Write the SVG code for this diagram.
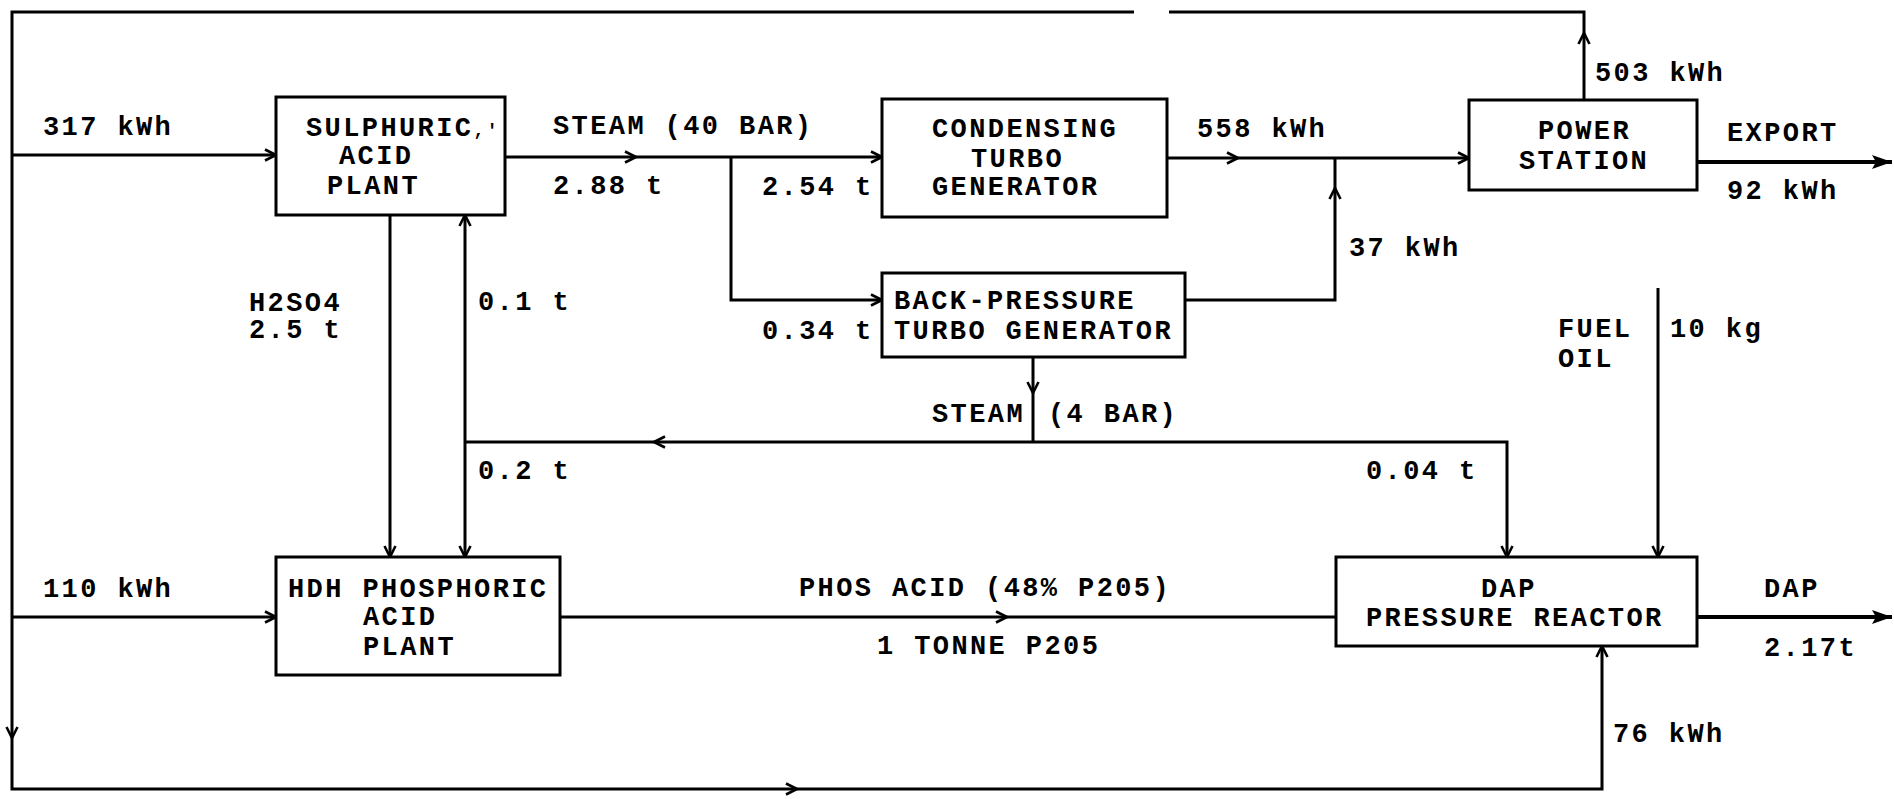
<svg xmlns="http://www.w3.org/2000/svg" width="1894" height="799" viewBox="0 0 1894 799">
<style>
.t{font-family:"Liberation Mono","DejaVu Sans Mono",monospace;font-size:27px;letter-spacing:2.4px;font-weight:bold;fill:#000}
.b{fill:#fff;stroke:#000;stroke-width:3}
.c path{fill:none;stroke:#000;stroke-width:3}
.c path.h{stroke-width:4}
</style>
<defs>
<marker id="a" viewBox="0 0 14 14" refX="13" refY="7" markerWidth="14" markerHeight="14" markerUnits="userSpaceOnUse" orient="auto"><path d="M2,1.5 L13,7 L2,12.5" fill="none" stroke="#000" stroke-width="2.6"/></marker>
<marker id="f" viewBox="0 0 20 16" refX="20" refY="8" markerWidth="20" markerHeight="16" markerUnits="userSpaceOnUse" orient="auto"><path d="M0,1 L20,8 L0,15 L4,8 z" fill="#000"/></marker>
</defs>
<rect width="1894" height="799" fill="#fff"/>
<g class="c" id="connectors">
<path d="M1584,100 V33" marker-end="url(#a)"/>
<path d="M1584,33 V12 H1169"/>
<path d="M1134,12 H12 V738" marker-end="url(#a)"/>
<path d="M12,738 V789 H797" marker-end="url(#a)"/>
<path d="M797,789 H1602 V646" marker-end="url(#a)"/>
<path d="M12,155 H276" marker-end="url(#a)"/>
<path d="M12,617 H276" marker-end="url(#a)"/>
<path d="M505,157 H636" marker-end="url(#a)"/>
<path d="M636,157 H882" marker-end="url(#a)"/>
<path d="M731,157 V300 H882" marker-end="url(#a)"/>
<path d="M1167,158 H1238" marker-end="url(#a)"/>
<path d="M1238,158 H1469" marker-end="url(#a)"/>
<path d="M1185,300 H1335 V188" marker-end="url(#a)"/>
<path d="M1335,188 V158"/>
<path class="h" d="M1697,162 H1892" marker-end="url(#f)"/>
<path d="M390,215 V557" marker-end="url(#a)"/>
<path d="M465,442 V215" marker-end="url(#a)"/>
<path d="M465,442 V557" marker-end="url(#a)"/>
<path d="M1033,357 V393" marker-end="url(#a)"/>
<path d="M1033,393 V442"/>
<path d="M1033,442 H654" marker-end="url(#a)"/>
<path d="M654,442 H465"/>
<path d="M1033,442 H1507 V557" marker-end="url(#a)"/>
<path d="M560,617 H1007" marker-end="url(#a)"/>
<path d="M1007,617 H1336"/>
<path class="h" d="M1697,617 H1892" marker-end="url(#f)"/>
<path d="M1658,288 V557" marker-end="url(#a)"/>
</g>
<g id="sulphuric">
<rect class="b" x="276" y="97" width="229" height="118"/>
<text class="t" x="306" y="136">SULPHURIC<tspan font-size="18">,'</tspan></text>
<text class="t" x="339" y="164">ACID</text>
<text class="t" x="327" y="194">PLANT</text>
</g>
<g id="condensing">
<rect class="b" x="882" y="99" width="285" height="118"/>
<text class="t" x="932" y="137">CONDENSING</text>
<text class="t" x="971" y="167">TURBO</text>
<text class="t" x="932" y="195">GENERATOR</text>
</g>
<g id="power">
<rect class="b" x="1469" y="100" width="228" height="90"/>
<text class="t" x="1538" y="139">POWER</text>
<text class="t" x="1519" y="169">STATION</text>
</g>
<g id="backpressure">
<rect class="b" x="882" y="273" width="303" height="84"/>
<text class="t" x="894" y="309">BACK-PRESSURE</text>
<text class="t" x="894" y="339">TURBO GENERATOR</text>
</g>
<g id="hdh">
<rect class="b" x="276" y="557" width="284" height="118"/>
<text class="t" x="288" y="597">HDH PHOSPHORIC</text>
<text class="t" x="363" y="625">ACID</text>
<text class="t" x="363" y="655">PLANT</text>
</g>
<g id="dap">
<rect class="b" x="1336" y="557" width="361" height="89"/>
<text class="t" x="1481" y="597">DAP</text>
<text class="t" x="1366" y="626">PRESSURE REACTOR</text>
</g>
<g id="labels">
<text class="t" x="43" y="135">317 kWh</text>
<text class="t" x="553" y="134">STEAM (40 BAR)</text>
<text class="t" x="553" y="194">2.88 t</text>
<text class="t" x="762" y="195">2.54 t</text>
<text class="t" x="1197" y="137">558 kWh</text>
<text class="t" x="1595" y="81">503 kWh</text>
<text class="t" x="1727" y="141">EXPORT</text>
<text class="t" x="1727" y="199">92 kWh</text>
<text class="t" x="1349" y="256">37 kWh</text>
<text class="t" x="762" y="339">0.34 t</text>
<text class="t" x="249" y="311">H2SO4</text>
<text class="t" x="249" y="338">2.5 t</text>
<text class="t" x="478" y="310">0.1 t</text>
<text class="t" x="1558" y="337">FUEL</text>
<text class="t" x="1558" y="367">OIL</text>
<text class="t" x="1670" y="337">10 kg</text>
<text class="t" x="932" y="422">STEAM</text>
<text class="t" x="1048" y="422">(4 BAR)</text>
<text class="t" x="478" y="479">0.2 t</text>
<text class="t" x="1366" y="479">0.04 t</text>
<text class="t" x="43" y="597">110 kWh</text>
<text class="t" x="799" y="596">PHOS ACID (48% P205)</text>
<text class="t" x="877" y="654">1 TONNE P205</text>
<text class="t" x="1764" y="597">DAP</text>
<text class="t" x="1764" y="656">2.17t</text>
<text class="t" x="1613" y="742">76 kWh</text>
</g>
</svg>
